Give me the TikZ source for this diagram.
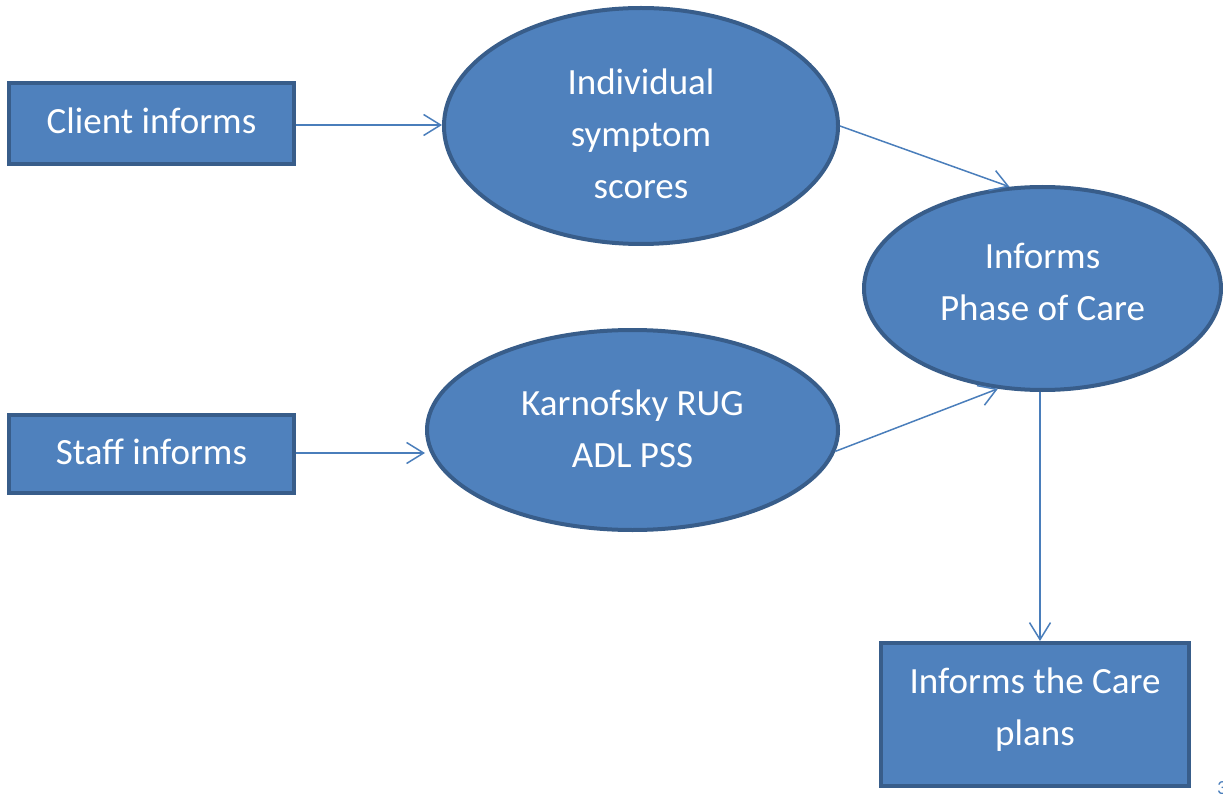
\documentclass[tikz,border=0pt]{standalone}
\usepackage{fontspec}
\setmainfont{Carlito}
\usetikzlibrary{shapes.geometric,arrows.meta}
\definecolor{boxfill}{HTML}{4F81BD}
\definecolor{boxline}{HTML}{385D8A}
\definecolor{arrowcol}{HTML}{4A7EBB}
\begin{document}
\begin{tikzpicture}[x=1pt,y=-1pt,
  lbl/.style={text=white,align=center,font=\fontsize{37}{52}\selectfont},
  boxnode/.style={rectangle,draw=boxline,fill=boxfill,line width=4pt,inner sep=0pt},
  ellnode/.style={ellipse,draw=boxline,fill=boxfill,line width=4pt,inner sep=0pt},
  conn/.style={draw=arrowcol,line width=1.5pt,-{Straight Barb[length=17pt,width=21pt,line width=1.5pt]}}]
\useasboundingbox (0,0) rectangle (1223,794);
\node[boxnode,minimum width=285pt,minimum height=81pt,label={[lbl,yshift=3pt]center:Client informs}] (client) at (151.5,123.5) {};
\node[boxnode,minimum width=285pt,minimum height=78pt,label={[lbl,yshift=2pt]center:Staff informs}] (staff) at (151.5,454) {};
\node[boxnode,minimum width=308pt,minimum height=143pt,label={[lbl,yshift=5pt]center:{Informs the Care\\plans}}] (plans) at (1035,714.5) {};
\node[ellnode,minimum width=394pt,minimum height=236pt,label={[lbl,yshift=-8pt]center:{Individual\\symptom\\scores}}] (sym) at (641,126) {};
\node[ellnode,minimum width=411pt,minimum height=200pt,label={[lbl,yshift=1pt]center:{Karnofsky RUG\\ADL PSS}}] (karn) at (632.5,430) {};
\node[ellnode,minimum width=357pt,minimum height=203pt,label={[lbl,yshift=7pt]center:{Informs\\Phase of Care}}] (phase) at (1042.5,288.5) {};
\node[anchor=north west,text=arrowcol,font=\fontsize{20}{22}\selectfont,inner sep=0pt] (pg) at (1217,781) {3};
\draw[conn] (client.east |- 0,125) -- (sym.west |- 0,125);
\draw[conn] (staff.east |- 0,453) -- (karn.west |- 0,453);
\draw[conn] (sym.east) -- (phase.108);
\draw[conn] (karn.354) -- (phase.246);
\draw[conn] ([xshift=-2.5pt]phase.south) -- ([xshift=-2.5pt]phase.south |- plans.north);
\end{tikzpicture}
\end{document}
